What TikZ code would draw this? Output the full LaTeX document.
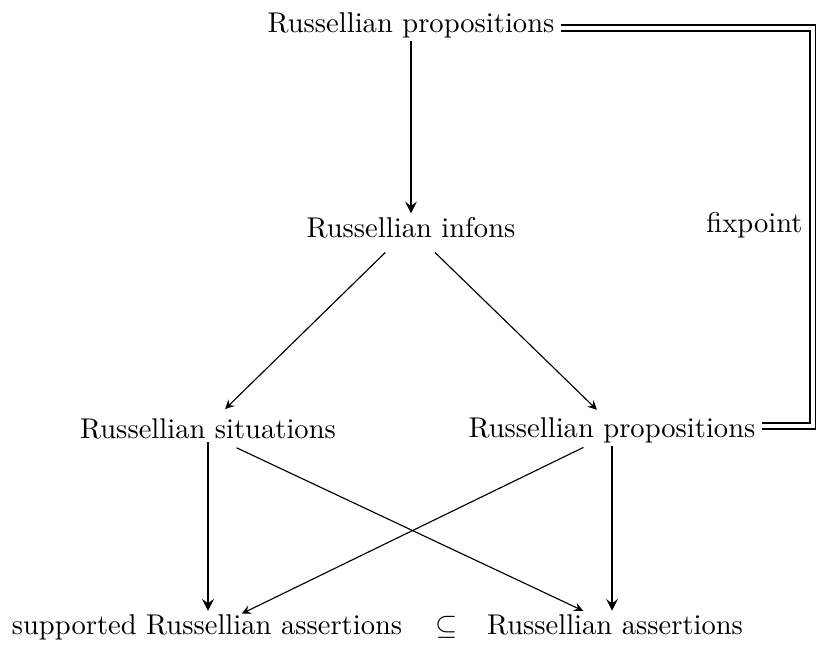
\documentclass[tikz,border=0pt]{standalone}
\usepackage{amsmath}
\usetikzlibrary{arrows}
\tikzstyle{thickarrow} = [line width=0.8pt,->,>=stealth]
\tikzstyle{thinarrow} = [line width=0.4pt,->,>=stealth]
\tikzstyle{doubleline} = [double, line width=0.7pt, double distance=1.4pt]
\tikzstyle{term} = [inner sep=1pt, anchor=base]

\begin{document}
\begin{tikzpicture}[x=0.35pt,y=-0.35pt]
        \useasboundingbox (0,0) rectangle (816,647);
        % the terms
        \node[term] (proptop) at (411,32) {Russellian propositions};
        \node[term] (infons) at (411,237) {Russellian infons};
        \node[term] (situations) at (208,438) {Russellian situations};
        \node[term] (propmid) at (612,437) {Russellian propositions};
        \node[term] (supported) at (207,634) {supported Russellian assertions};
        \node[term] (subset) at (447,634) {$\subseteq$};
        \node[term] (assertions) at (615,634) {Russellian assertions};
        \node[term, anchor=base east] (fixlabel) at (806,232) {fixpoint};
        \coordinate (turn) at (813,225);
        % the fixpoint loop
        \draw[doubleline] ([xshift=1pt,yshift=1.4pt]proptop.base east) -| (turn)
            |- ([xshift=1pt,yshift=3.7pt]propmid.base east);
        % the arrows
        \draw[thickarrow] (proptop.south) -- (infons.north);
        \draw[thinarrow] ([xshift=-9pt,yshift=-4pt]infons.south) -- ([xshift=6pt,yshift=2pt]situations.north);
        \draw[thinarrow] ([xshift=8.4pt,yshift=-4pt]infons.south) -- ([xshift=-5.3pt,yshift=1.4pt]propmid.north);
        \draw[thickarrow] (situations.south) -- (situations.south |- supported.north);
        \draw[thickarrow] (propmid.south) -- (propmid.south |- assertions.north);
        \draw[thinarrow] ([xshift=10pt,yshift=-2pt]situations.south) -- ([xshift=-11.2pt]assertions.north);
        \draw[thinarrow] ([xshift=-10pt,yshift=-0.5pt]propmid.south) -- ([xshift=12.2pt,yshift=-1pt]supported.north);
\end{tikzpicture}
\end{document}
